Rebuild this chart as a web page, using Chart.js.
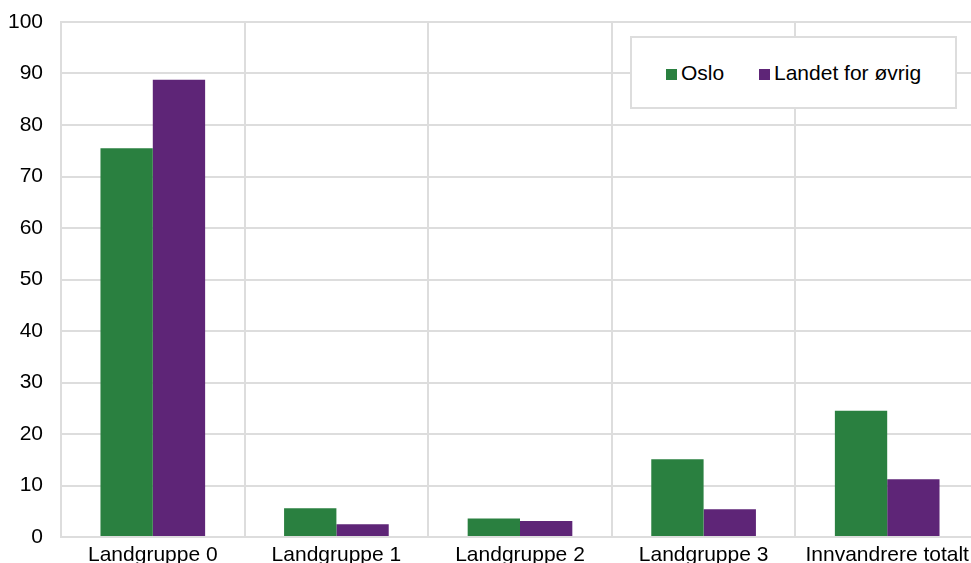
<!DOCTYPE html>
<html>
<head>
<meta charset="utf-8">
<script src="https://cdn.jsdelivr.net/npm/chart.js@4"></script>
<style>
  html, body { margin: 0; padding: 0; overflow: hidden; background: #fff; }
  #wrap { position: relative; width: 980px; height: 580px; }
  #legend {
    position: absolute; left: 630px; top: 36px; width: 323px; height: 69px;
    border: 2px solid #dddddd; background: #fff;
    font-family: "Liberation Sans", Arial, sans-serif; font-size: 21px; color: #000;
  }
  .item { position: absolute; top: 0; height: 69px; line-height: 69px; white-space: nowrap; }
  .sw { display: inline-block; width: 11px; height: 11px; margin-right: 4px; vertical-align: 0px; }
</style>
</head>
<body>
<div id="wrap">
  <canvas id="chart" width="980" height="580"></canvas>
  <div id="legend"></div>
</div>
<script>
const categories = ['Landgruppe 0', 'Landgruppe 1', 'Landgruppe 2', 'Landgruppe 3', 'Innvandrere totalt'];
const seriesNames = ['Oslo', 'Landet for øvrig'];
const osloValues = [75.5, 5.6, 3.6, 15.1, 24.5];
const restValues = [88.8, 2.5, 3.1, 5.4, 11.2];
const seriesColors = ['#2a8040', '#5e2577'];
const yTicks = [0, 10, 20, 30, 40, 50, 60, 70, 80, 90, 100];

const gridColor = '#dddddd';
const font = { family: '"Liberation Sans", Arial, sans-serif', size: 21 };

const ctx = document.getElementById('chart').getContext('2d');
new Chart(ctx, {
    type: 'bar',
    data: {
        labels: categories,
        datasets: [
            { label: seriesNames[0], data: osloValues, backgroundColor: seriesColors[0] },
            { label: seriesNames[1], data: restValues, backgroundColor: seriesColors[1] }
        ]
    },
    options: {
        responsive: false,
        animation: false,
        devicePixelRatio: 1,
        layout: { padding: { top: 22, right: 1, left: 0, bottom: 0 } },
        datasets: { bar: { categoryPercentage: 0.57, barPercentage: 1 } },
        plugins: { legend: { display: false }, tooltip: { enabled: false } },
        scales: {
            x: {
                grid: { color: gridColor, lineWidth: 2, drawTicks: false },
                border: { color: gridColor, width: 2 },
                ticks: { color: '#000', font: font, padding: 6, maxRotation: 0, autoSkip: false },
                afterFit: s => { s.height = 43; s.paddingLeft = 0; s.paddingRight = 0; }
            },
            y: {
                min: 0, max: 100,
                afterBuildTicks: s => { s.ticks = yTicks.map(v => ({ value: v })); },
                grid: { color: gridColor, lineWidth: 2, drawTicks: false },
                border: { color: gridColor, width: 2 },
                ticks: { color: '#000', font: font, padding: 18 },
                afterFit: s => { s.width = 61; s.paddingTop = 0; s.paddingBottom = 0; }
            }
        }
    }
});

// legend box inside the plot area
const legend = document.getElementById('legend');
const itemLeft = [34, 127];
seriesNames.forEach((name, i) => {
    const it = document.createElement('div');
    it.className = 'item';
    it.style.left = itemLeft[i] + 'px';
    const sw = document.createElement('span');
    sw.className = 'sw';
    sw.style.background = seriesColors[i];
    it.appendChild(sw);
    it.appendChild(document.createTextNode(name));
    legend.appendChild(it);
});
</script>
</body>
</html>
